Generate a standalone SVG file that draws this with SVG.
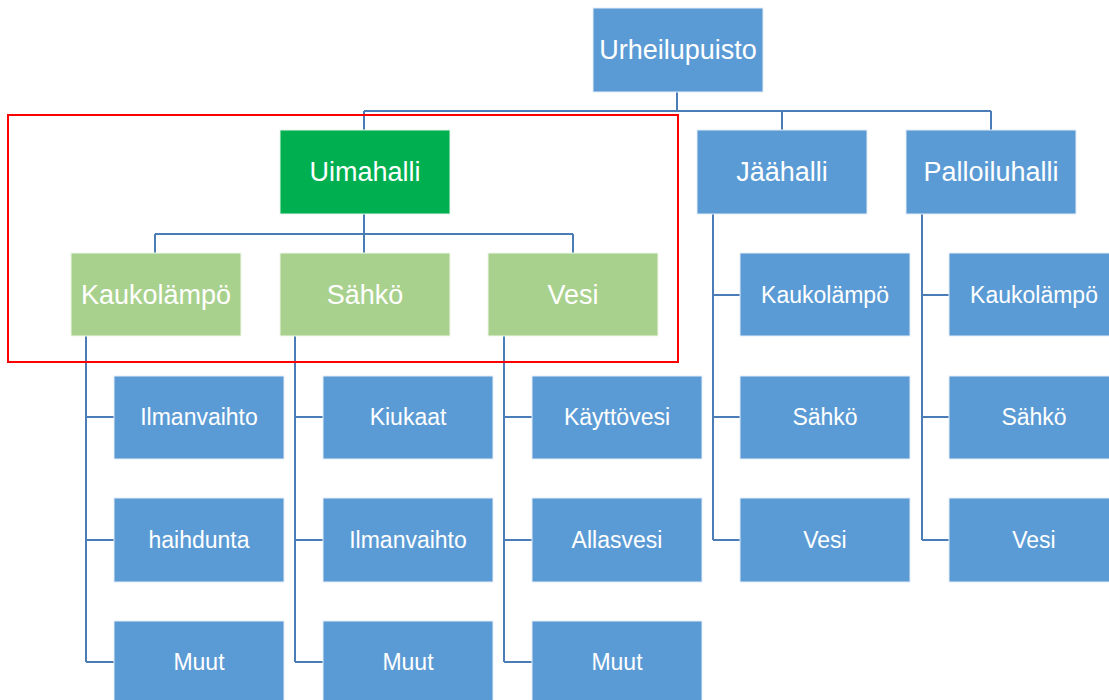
<svg xmlns="http://www.w3.org/2000/svg" width="1109" height="700" viewBox="0 0 1109 700">
<style>
.b{fill:#5B9BD5;stroke:#E4EDF7;stroke-width:1}
.g{fill:#00B050;stroke:#E4F5EA;stroke-width:1}
.lg{fill:#A9D18E;stroke:#F0F7EA;stroke-width:1}
.t{fill:#fff;font-family:"Liberation Sans",Arial,sans-serif;text-anchor:middle}
.l1{font-size:27px}
.l2{font-size:23px}
.c{fill:none;stroke:#4A7DB5;stroke-width:2}
</style>
<rect width="1109" height="700" fill="#fff"/>
<g id="connectors">
<path class="c" d="M677,92V111M364,111H991M364,111V130M782,111V130M991,111V130"/>
<path class="c" d="M364,214V234M155,234H573M155,234V253M364,234V253M573,234V253"/>
<path class="c" d="M86,336V662M86,417H114M86,540H114M86,662H114"/>
<path class="c" d="M295,336V662M295,417H323M295,540H323M295,662H323"/>
<path class="c" d="M504,336V662M504,417H532M504,540H532M504,662H532"/>
<path class="c" d="M713,214V540M713,295H740M713,417H740M713,540H740"/>
<path class="c" d="M922,214V540M922,295H949M922,417H949M922,540H949"/>
</g>
<g id="n-urheilupuisto"><rect class="b" x="593" y="8" width="170" height="84"/><text class="t l1" x="678" y="59">Urheilupuisto</text></g>
<g id="n-uimahalli"><rect class="g" x="280" y="130" width="170" height="84"/><text class="t l1" x="365" y="181">Uimahalli</text></g>
<g id="n-jaahalli"><rect class="b" x="697" y="130" width="170" height="84"/><text class="t l1" x="782" y="181">Jäähalli</text></g>
<g id="n-palloiluhalli"><rect class="b" x="906" y="130" width="170" height="84"/><text class="t l1" x="991" y="181">Palloiluhalli</text></g>
<g id="n-u-kaukolampo"><rect class="lg" x="71" y="253" width="170" height="83"/><text class="t l1" x="156" y="304">Kaukolämpö</text></g>
<g id="n-u-sahko"><rect class="lg" x="280" y="253" width="170" height="83"/><text class="t l1" x="365" y="304">Sähkö</text></g>
<g id="n-u-vesi"><rect class="lg" x="488" y="253" width="170" height="83"/><text class="t l1" x="573" y="304">Vesi</text></g>
<g id="n-k-ilmanvaihto"><rect class="b" x="114" y="376" width="170" height="83"/><text class="t l2" x="199" y="425">Ilmanvaihto</text></g>
<g id="n-k-haihdunta"><rect class="b" x="114" y="498" width="170" height="84"/><text class="t l2" x="199" y="548">haihdunta</text></g>
<g id="n-k-muut"><rect class="b" x="114" y="621" width="170" height="84"/><text class="t l2" x="199" y="670">Muut</text></g>
<g id="n-s-kiukaat"><rect class="b" x="323" y="376" width="170" height="83"/><text class="t l2" x="408" y="425">Kiukaat</text></g>
<g id="n-s-ilmanvaihto"><rect class="b" x="323" y="498" width="170" height="84"/><text class="t l2" x="408" y="548">Ilmanvaihto</text></g>
<g id="n-s-muut"><rect class="b" x="323" y="621" width="170" height="84"/><text class="t l2" x="408" y="670">Muut</text></g>
<g id="n-v-kayttovesi"><rect class="b" x="532" y="376" width="170" height="83"/><text class="t l2" x="617" y="425">Käyttövesi</text></g>
<g id="n-v-allasvesi"><rect class="b" x="532" y="498" width="170" height="84"/><text class="t l2" x="617" y="548">Allasvesi</text></g>
<g id="n-v-muut"><rect class="b" x="532" y="621" width="170" height="84"/><text class="t l2" x="617" y="670">Muut</text></g>
<g id="n-j-kaukolampo"><rect class="b" x="740" y="253" width="170" height="83"/><text class="t l2" x="825" y="303">Kaukolämpö</text></g>
<g id="n-j-sahko"><rect class="b" x="740" y="376" width="170" height="83"/><text class="t l2" x="825" y="425">Sähkö</text></g>
<g id="n-j-vesi"><rect class="b" x="740" y="498" width="170" height="84"/><text class="t l2" x="825" y="548">Vesi</text></g>
<g id="n-p-kaukolampo"><rect class="b" x="949" y="253" width="170" height="83"/><text class="t l2" x="1034" y="303">Kaukolämpö</text></g>
<g id="n-p-sahko"><rect class="b" x="949" y="376" width="170" height="83"/><text class="t l2" x="1034" y="425">Sähkö</text></g>
<g id="n-p-vesi"><rect class="b" x="949" y="498" width="170" height="84"/><text class="t l2" x="1034" y="548">Vesi</text></g>
<rect id="highlight" x="8" y="115" width="670" height="247" fill="none" stroke="#FF0000" stroke-width="2"/>
</svg>
